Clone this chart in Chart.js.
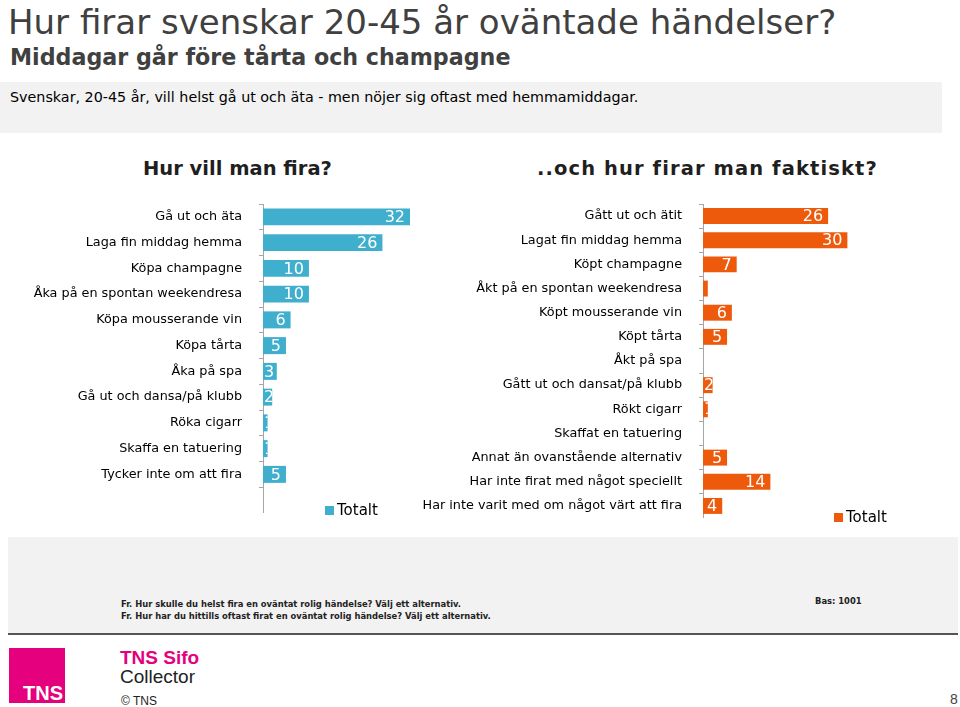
<!DOCTYPE html>
<html lang="sv">
<head>
    <meta charset="UTF-8">
    <title>Hur firar svenskar 20-45 år oväntade händelser?</title>
    <script src="https://cdn.jsdelivr.net/npm/chart.js"></script>
    <style>
        body { margin: 0; background: #fff; }
        .page { position: relative; width: 960px; height: 707px; overflow: hidden; font-family: "DejaVu Sans", sans-serif; color: #000; }
        .abs { position: absolute; white-space: nowrap; line-height: 1; }
        .title { left: 8px; top: 5px; font: 34px "DejaVu Sans", sans-serif; color: #404040; line-height: 1; }
        .subtitle { left: 10px; top: 46px; font: bold 22.2px "DejaVu Sans", sans-serif; color: #404040; line-height: 1; }
        .band { left: 0; top: 82px; width: 942px; height: 51px; background: #f2f2f2; }
        .bandtext { left: 10px; top: 90px; font-size: 14.3px; color: #000; }
        .head { top: 157px; font: bold 19.5px "DejaVu Sans", sans-serif; color: #1f1f1f; }
        .legend { font-size: 15px; color: #000; }
        .legend span { display: inline-block; width: 9px; height: 9px; margin-right: 3px; vertical-align: 0px; }
        .foot { left: 8px; top: 537px; width: 950px; height: 96px; background: #f2f2f2; border-bottom: 2px solid #555; }
        .q { left: 121px; font: bold 8.4px "DejaVu Sans", sans-serif; color: #222; }
        canvas { position: absolute; }
    </style>
</head>
<body>
<div class="page">
    <div class="abs title">Hur firar svenskar 20-45 år oväntade händelser?</div>
    <div class="abs subtitle">Middagar går före tårta och champagne</div>
    <div class="abs band"></div>
    <div class="abs bandtext">Svenskar, 20-45 år, vill helst gå ut och äta - men nöjer sig oftast med hemmamiddagar.</div>
    <div class="abs head" style="left:143px">Hur vill man fira?</div>
    <div class="abs head" style="left:537px;letter-spacing:1.1px">..och hur firar man faktiskt?</div>

    <canvas id="leftChart" width="410" height="309" style="left:0;top:204px"></canvas>
    <canvas id="rightChart" width="457" height="314" style="left:400px;top:204px"></canvas>

    <div class="abs legend" style="left:325px;top:503px"><span style="background:#3fafcd"></span>Totalt</div>
    <div class="abs legend" style="left:834px;top:510px"><span style="background:#ee5a0c"></span>Totalt</div>

    <div class="abs foot"></div>
    <div class="abs q" style="top:599px">Fr. Hur skulle du helst fira en oväntat rolig händelse? Välj ett alternativ.</div>
    <div class="abs q" style="top:611px">Fr. Hur har du hittills oftast firat en oväntat rolig händelse? Välj ett alternativ.</div>
    <div class="abs q" style="left:815px;top:596px">Bas: 1001</div>

    <div class="abs" style="left:9px;top:648px;width:56px;height:55px;background:#e5007d"></div>
    <div class="abs" style="left:23px;top:682px;font:bold 20px 'Liberation Sans Narrow', 'Liberation Sans', Arial, sans-serif;color:#fff">TNS</div>
    <div class="abs" style="left:120px;top:647px;font:bold 19px 'Liberation Sans', Arial, sans-serif;color:#e5007d">TNS Sifo</div>
    <div class="abs" style="left:120px;top:666px;font:19px 'Liberation Sans', Arial, sans-serif;color:#222">Collector</div>
    <div class="abs" style="left:121px;top:694px;font:12px 'Liberation Sans', Arial, sans-serif;color:#222">© TNS</div>
    <div class="abs" style="left:950px;top:691px;font:14px 'Liberation Sans', Arial, sans-serif;color:#444">8</div>
</div>
<script>
    // Hur vill man fira? (procent, Totalt)
    const wishCategories = ['Gå ut och äta', 'Laga fin middag hemma', 'Köpa champagne', 'Åka på en spontan weekendresa',
        'Köpa mousserande vin', 'Köpa tårta', 'Åka på spa', 'Gå ut och dansa/på klubb', 'Röka cigarr',
        'Skaffa en tatuering', 'Tycker inte om att fira', ''];
    const wishValues = [32, 26, 10, 10, 6, 5, 3, 2, 1, 1, 5, null];
    const wishLabels = ['32', '26', '10', '10', '6', '5', '3', '2', '1', '1', '5', ''];

    // ..och hur firar man faktiskt? (procent, Totalt)
    const actualCategories = ['Gått ut och ätit', 'Lagat fin middag hemma', 'Köpt champagne', 'Åkt på en spontan weekendresa',
        'Köpt mousserande vin', 'Köpt tårta', 'Åkt på spa', 'Gått ut och dansat/på klubb', 'Rökt cigarr',
        'Skaffat en tatuering', 'Annat än ovanstående alternativ', 'Har inte firat med något speciellt',
        'Har inte varit med om något värt att fira'];
    const actualValues = [26, 30, 7, 1, 6, 5, 0, 2, 1, 0, 5, 14, 4];
    const actualLabels = ['26', '30', '7', '', '6', '5', '', '2', '1', '', '5', '14', '4'];

    // white value text inside the bar end, clipped to the bar
    const valueLabels = {
        id: 'valueLabels',
        afterDatasetsDraw(chart, args, opts) {
            const ctx = chart.ctx;
            chart.getDatasetMeta(0).data.forEach((bar, i) => {
                const txt = opts.texts[i];
                if (!txt) return;
                const left = bar.base, right = bar.x, h = bar.height;
                ctx.save();
                ctx.font = '16px "DejaVu Sans", sans-serif';
                const w = ctx.measureText(txt).width;
                ctx.beginPath();
                ctx.rect(left, bar.y - h / 2, right - left, h);
                ctx.clip();
                ctx.fillStyle = '#fff';
                ctx.textBaseline = 'middle';
                ctx.fillText(txt, Math.max(left + 1, right - 5 - w), bar.y + 1);
                ctx.restore();
            });
        }
    };

    function makeChart(id, categories, values, texts, color, axisWidth) {
        return new Chart(document.getElementById(id), {
            type: 'bar',
            data: {
                labels: categories,
                datasets: [{
                    label: 'Totalt',
                    data: values,
                    backgroundColor: color,
                    barPercentage: 0.66,
                    categoryPercentage: 1
                }]
            },
            options: {
                indexAxis: 'y',
                responsive: false,
                animation: false,
                devicePixelRatio: 1,
                layout: { padding: 0 },
                plugins: {
                    legend: { display: false },
                    tooltip: { enabled: false },
                    valueLabels: { texts: texts }
                },
                scales: {
                    x: { display: false, min: 0, max: 32 },
                    y: {
                        grid: { drawOnChartArea: false, offset: true, tickLength: 4, color: '#a6a6a6' },
                        border: { color: '#a6a6a6' },
                        ticks: { color: '#000', font: { family: 'DejaVu Sans', size: 12.8 }, padding: 17, autoSkip: false },
                        afterFit(scale) {
                            scale.width = axisWidth;
                            scale.paddingTop = 0;
                            scale.paddingBottom = 0;
                        }
                    }
                }
            },
            plugins: [valueLabels]
        });
    }

    makeChart('leftChart', wishCategories, wishValues, wishLabels, '#3fafcd', 263);
    makeChart('rightChart', actualCategories, actualValues, actualLabels, '#ee5a0c', 303);
</script>
</body>
</html>
